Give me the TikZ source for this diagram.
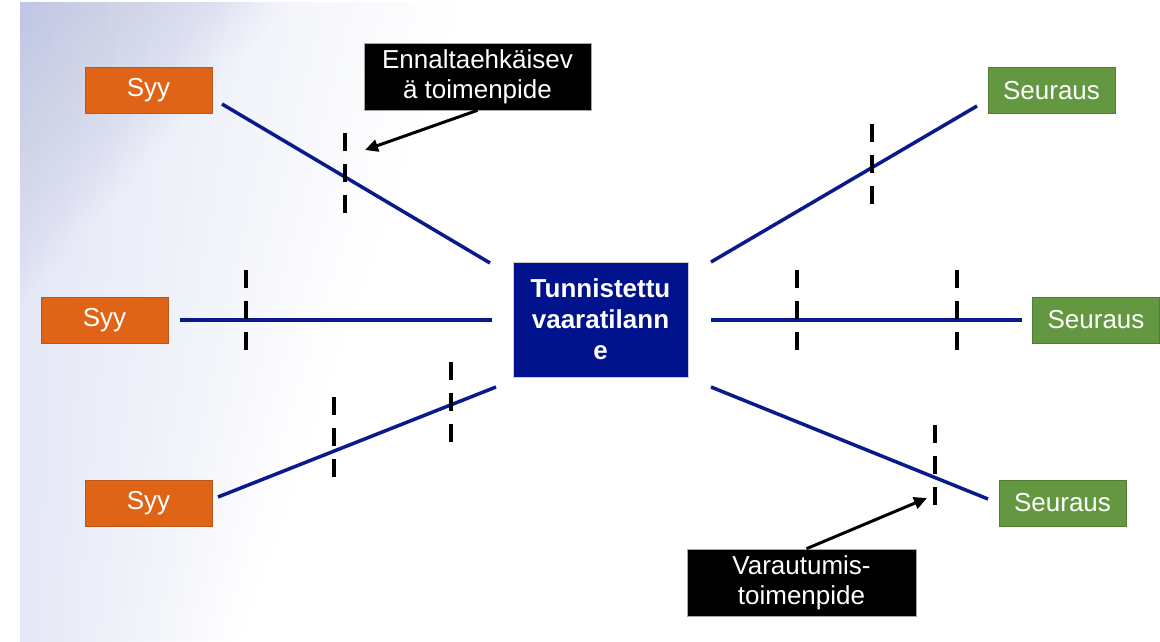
\documentclass[tikz,border=0pt]{standalone}
\usepackage{fontspec}
\setmainfont{Liberation Sans}
\usetikzlibrary{arrows.meta}
\definecolor{syyfill}{RGB}{224,100,24}
\definecolor{syydraw}{RGB}{190,85,25}
\definecolor{seufill}{RGB}{99,152,64}
\definecolor{seudraw}{RGB}{80,125,50}
\definecolor{navy}{RGB}{0,18,140}
\definecolor{linecol}{RGB}{8,26,140}
\definecolor{bgL}{RGB}{228,231,245}
\definecolor{bgD}{RGB}{190,196,230}
\tikzset{
  txt/.style={font=\fontsize{26}{30}\selectfont, text=white, align=center, inner sep=0pt},
  syybox/.style={txt, fill=syyfill, draw=syydraw, line width=0.8pt, minimum width=127pt, minimum height=46pt},
  seubox/.style={txt, fill=seufill, draw=seudraw, line width=0.8pt, minimum width=127pt, minimum height=46pt},
  blackbox/.style={txt, fill=black, draw=gray!70, line width=0.6pt, minimum height=67pt},
  centerbox/.style={txt, font=\fontsize{26}{31}\selectfont\bfseries, fill=navy, draw=gray!40, line width=0.6pt, minimum width=175pt, minimum height=115pt},
  conn/.style={draw=linecol, line width=3.5pt},
  tick/.style={draw=black, line width=4pt, dash pattern=on 18pt off 13pt},
  pointer/.style={draw=black, line width=3pt, -{Triangle[length=13pt,width=12pt]}}
}
\begin{document}
\begin{tikzpicture}[x=1pt,y=-1pt]
\useasboundingbox (0,0) rectangle (1160,641);
\fill[white] (0,0) rectangle (1160,641);
% soft background fade on the left
\foreach \k in {40,39,...,1} {
  \pgfmathsetmacro{\pc}{100*(41-\k)/40}
  \fill[bgL!\pc!white] (20,2) -- ({20+\k*11},2) -- ({20+\k*5.5},641) -- (20,641) -- cycle;
}
\foreach \k in {30,29,...,1} {
  \fill[bgD, opacity=0.035] (20,2) -- ({20+\k*9},2) -- (20,{2+\k*10}) -- cycle;
}

% boxes
\node[syybox] (syy1) at (148.5,90) {Syy};
\node[syybox] (syy2) at (104.5,320) {Syy};
\node[syybox] (syy3) at (148.5,503) {Syy};
\node[seubox] (seu1) at (1051.5,90.5) {Seuraus};
\node[seubox] (seu2) at (1096,320) {Seuraus};
\node[seubox] (seu3) at (1062.5,503) {Seuraus};
\node[centerbox] (hub) at (600.5,319.5) {Tunnistettu\\vaaratilann\\e};
\node[blackbox, minimum width=227pt] (prev) at (477.5,76.5) {Ennaltaehkäisev\\ä toimenpide};
\node[blackbox, minimum width=229pt] (prep) at (801.5,582.5) {Varautumis-\\toimenpide};

% connector end points
\coordinate (l1a) at (222,104);
\coordinate (l1b) at (490,263);
\coordinate (l2a) at (180,320);
\coordinate (l2b) at (492,320);
\coordinate (l3a) at (218,497);
\coordinate (l3b) at (496,387);
\coordinate (r1a) at (711,262);
\coordinate (r1b) at (977,106);
\coordinate (r2a) at (711,320);
\coordinate (r2b) at (1022,320);
\coordinate (r3a) at (711,387);
\coordinate (r3b) at (988,499);

\draw[conn] (l1a) -- (l1b);
\draw[conn] (l2a) -- (l2b);
\draw[conn] (l3a) -- (l3b);
\draw[conn] (r1a) -- (r1b);
\draw[conn] (r2a) -- (r2b);
\draw[conn] (r3a) -- (r3b);

% barrier ticks
\coordinate (t1a) at (345,133); \coordinate (t1b) at (345,213);
\coordinate (t2a) at (246,270); \coordinate (t2b) at (246,350);
\coordinate (t3a) at (334,397); \coordinate (t3b) at (334,477);
\coordinate (t4a) at (451,362); \coordinate (t4b) at (451,442);
\coordinate (t5a) at (872,124); \coordinate (t5b) at (872,204);
\coordinate (t6a) at (797,270); \coordinate (t6b) at (797,350);
\coordinate (t7a) at (957,270); \coordinate (t7b) at (957,350);
\coordinate (t8a) at (935,425); \coordinate (t8b) at (935,505);
\foreach \t in {1,...,8} {\draw[tick] (t\t a) -- (t\t b);}

% pointers
\coordinate (p1) at (365,150);
\coordinate (p2) at (927,498);
\draw[pointer] (prev.south) -- (p1);
\draw[pointer] ([xshift=5pt]prep.north) -- (p2);
\end{tikzpicture}
\end{document}
